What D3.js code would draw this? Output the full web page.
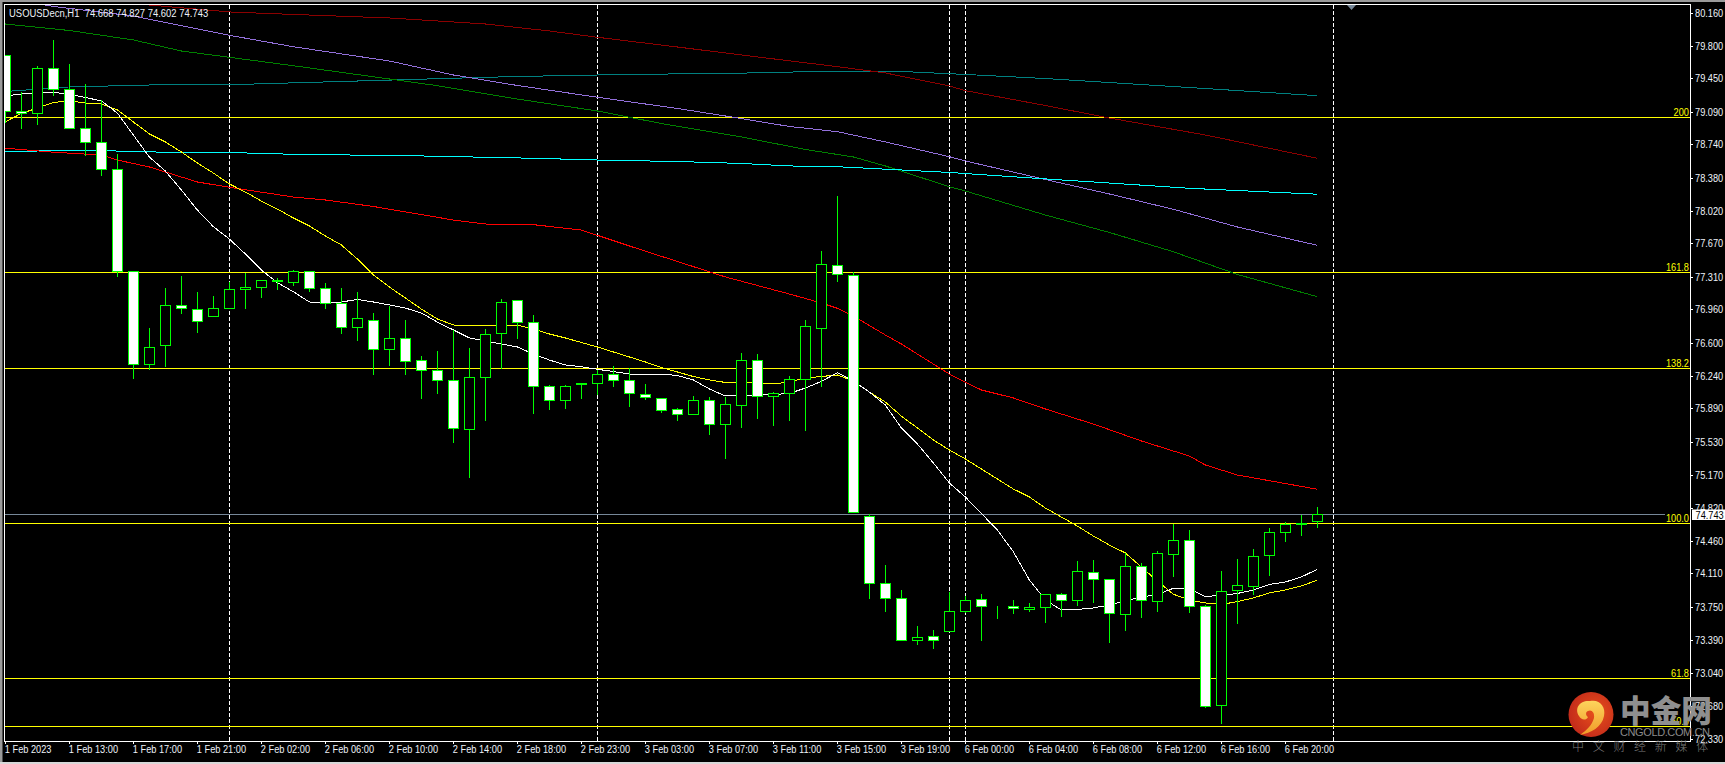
<!DOCTYPE html>
<html><head><meta charset="utf-8">
<script src="https://cdnjs.cloudflare.com/ajax/libs/d3/7.8.5/d3.min.js"></script>
<style>
html,body{margin:0;padding:0;background:#000;overflow:hidden}
svg{display:block}
text{font-family:"Liberation Sans",Arial,sans-serif;font-size:11px;fill:#eef2f8}
</style></head><body><svg id="c" width="1725" height="764"></svg>
<script>
const symbolTitle="USOUSDecn,H1  74.668 74.827 74.602 74.743";
const lastPrice=74.743;
const opens=[79.699,79.090,79.073,79.558,79.332,78.911,78.760,78.469,77.365,76.366,
76.571,77.002,76.955,76.884,76.970,77.175,77.197,77.257,77.250,77.369,
77.181,77.024,76.765,76.841,76.528,76.646,76.409,76.301,76.194,75.665,
76.226,76.700,77.056,76.819,76.129,75.978,76.161,76.161,76.258,76.194,
76.043,75.999,75.881,75.827,75.978,75.719,75.924,76.409,76.021,76.053,
76.204,76.754,77.434,77.326,74.727,74.004,73.842,73.389,73.432,73.486,
73.702,73.832,73.756,73.756,73.724,73.745,73.885,73.821,74.123,74.047,
73.670,74.188,73.810,74.317,74.468,73.756,72.688,73.929,73.972,74.306,
74.554,74.640,74.668];
const closes=[79.095,79.069,79.558,79.332,78.911,78.760,78.469,77.365,76.366,76.549,
77.002,76.970,76.830,76.970,77.175,77.197,77.272,77.272,77.369,77.186,
77.020,76.765,76.862,76.528,76.646,76.398,76.301,76.194,75.676,76.226,
76.690,77.035,76.819,76.129,75.978,76.129,76.146,76.258,76.194,76.053,
76.010,75.870,75.827,75.978,75.719,75.935,76.409,76.021,76.053,76.204,
76.776,77.445,77.337,74.770,74.004,73.842,73.389,73.422,73.389,73.702,
73.821,73.756,73.749,73.735,73.745,73.885,73.821,74.134,74.047,73.681,
74.188,73.821,74.328,74.468,73.756,72.678,73.918,73.983,74.295,74.554,
74.640,74.647,74.743];
const highs=[79.699,79.303,79.583,79.864,79.612,79.397,79.217,78.634,77.365,76.765,
77.197,77.326,77.153,77.110,77.264,77.358,77.283,77.304,77.391,77.380,
77.250,77.197,77.153,76.927,77.002,76.851,76.456,76.520,76.736,76.549,
76.754,77.078,77.067,76.898,76.143,76.150,76.161,76.305,76.348,76.334,
76.154,75.999,75.895,76.032,76.021,76.021,76.496,76.485,76.075,76.247,
76.851,77.588,78.181,77.369,74.759,74.209,73.939,73.551,73.508,73.918,
73.867,73.896,73.767,73.832,73.799,73.896,73.907,74.252,74.263,74.047,
74.339,74.231,74.360,74.651,74.587,73.778,74.144,74.274,74.382,74.601,
74.673,74.748,74.827];
const lows=[78.979,78.907,78.947,79.263,78.911,78.623,78.400,77.311,76.208,76.315,
76.340,76.909,76.707,76.884,76.970,76.966,77.084,77.171,77.214,77.149,
76.966,76.700,76.621,76.251,76.348,76.261,75.999,76.046,75.521,75.143,
75.758,76.323,76.639,75.833,75.876,75.884,75.992,76.035,76.121,75.916,
75.981,75.841,75.755,75.827,75.614,75.345,75.679,75.779,75.701,75.755,
75.657,76.124,77.257,74.770,73.838,73.698,73.389,73.339,73.306,73.486,
73.684,73.382,73.619,73.681,73.695,73.576,73.641,73.763,73.792,73.360,
73.490,73.630,73.695,74.072,73.684,72.659,72.487,73.565,73.881,74.083,
74.460,74.514,74.602];

const whiteMA=[79.260,79.281,79.297,79.300,79.276,79.244,79.206,79.076,78.839,78.602,
78.451,78.246,78.030,77.850,77.717,77.556,77.383,77.246,77.149,77.038,
77.027,77.038,77.065,77.038,77.006,76.973,76.919,76.822,76.736,76.650,
76.617,76.585,76.553,76.477,76.412,76.359,76.340,76.312,76.288,76.261,
76.254,76.261,76.245,76.197,76.100,76.024,76.027,76.035,76.040,76.051,
76.110,76.181,76.275,76.186,76.067,75.927,75.679,75.507,75.302,75.086,
74.935,74.757,74.579,74.345,74.040,73.824,73.716,73.722,73.738,73.770,
73.813,73.856,73.883,73.950,73.943,73.862,73.873,73.894,73.932,73.991,
74.018,74.072,74.155];
const yellowMA=[78.982,79.071,79.130,79.190,79.206,79.184,79.173,79.109,78.979,78.850,
78.764,78.656,78.537,78.429,78.311,78.224,78.127,78.041,77.944,77.858,
77.750,77.653,77.502,77.329,77.200,77.081,76.962,76.855,76.790,76.779,
76.787,76.787,76.787,76.747,76.693,76.650,76.601,76.553,76.499,76.445,
76.391,76.332,76.283,76.234,76.197,76.170,76.168,76.164,76.154,76.175,
76.218,76.234,76.251,76.186,76.067,75.959,75.808,75.679,75.550,75.442,
75.345,75.237,75.129,75.021,74.935,74.816,74.719,74.622,74.514,74.417,
74.331,74.180,74.029,73.886,73.824,73.792,73.776,73.806,73.846,73.900,
73.932,73.975,74.037];
const redBars=[0,3,6,7,9,12,14,18,20,23,28,30,33,36,37,39,42,45,49,51,52,53,54,55,56,58,59,61,63,65,68,71,74,75,77,82];
const redMA=[78.696,78.653,78.623,78.569,78.494,78.332,78.275,78.170,78.138,78.068,77.922,77.879,77.872,77.814,77.757,77.642,77.475,77.308,77.124,77.027,76.970,76.887,76.785,76.682,76.585,76.369,76.261,76.089,76.003,75.884,75.722,75.539,75.377,75.280,75.172,75.018];
const darkRedBars=[7,9,14,18,24,30,34,37,42,46,52,55,59,60,65,69,75,82];
const darkRedMA=[80.263,80.241,80.166,80.139,80.101,80.036,79.961,79.893,79.788,79.702,79.576,79.508,79.368,79.317,79.157,79.022,78.839,78.588];
const purpleBars=[2,3,8,14,18,24,28,32,37,42,45,49,52,55,59,60,65,69,73,77,82];
const purpleMA=[80.257,80.225,80.122,79.914,79.791,79.637,79.486,79.373,79.246,79.125,79.044,78.931,78.875,78.764,78.605,78.559,78.359,78.203,78.038,77.847,77.649];
const greenBars=[0,4,8,11,14,18,24,27,32,37,41,46,50,53,55,59,60,65,69,73,77,82];
const greenMA=[80.036,79.966,79.864,79.745,79.677,79.586,79.443,79.371,79.227,79.098,78.963,78.818,78.683,78.602,78.505,78.281,78.235,77.976,77.788,77.580,77.335,77.095];
const tealBars=[0,4,9,15,21,27,32,38,48,51,56,60,65,70,74,82];
const tealMA=[79.308,79.357,79.378,79.386,79.416,79.446,79.470,79.489,79.511,79.529,79.524,79.492,79.448,79.394,79.351,79.263];
const cyanBars=[0,3,6,10,15,18,26,33,37,42,46,49,52,59,65,69,74,82];
const cyanMA=[78.659,78.670,78.670,78.653,78.645,78.631,78.613,78.588,78.569,78.553,78.532,78.505,78.497,78.435,78.365,78.321,78.264,78.200];

const fibLabels=["200","161.8","138.2","100.0","61.8","50.0"];
const fibPrices=[79.030,77.358,76.323,74.651,72.980,72.462];
const dashedBars=[14,37,59,60,83];
const priceTicks=[80.16,79.80,79.45,79.09,78.74,78.38,78.02,77.67,77.31,76.96,76.60,76.24,75.89,75.53,75.17,74.82,74.46,74.11,73.75,73.39,73.04,72.68,72.33];
const timeLabels=["1 Feb 2023","1 Feb 13:00","1 Feb 17:00","1 Feb 21:00","2 Feb 02:00","2 Feb 06:00","2 Feb 10:00","2 Feb 14:00","2 Feb 18:00","2 Feb 23:00","3 Feb 03:00","3 Feb 07:00","3 Feb 11:00","3 Feb 15:00","3 Feb 19:00","6 Feb 00:00","6 Feb 04:00","6 Feb 08:00","6 Feb 12:00","6 Feb 16:00","6 Feb 20:00"];

const L=4.5,T=4.5,R=1690.5,B=741.5;
const x=d3.scaleLinear().domain([0,82]).range([5.33,1317.33]);
const y=d3.scaleLinear().domain([80.16,72.33]).range([12.5,738.5]);
const px=v=>Math.floor(x(v))+.5, py=v=>Math.floor(y(v))+.5;
const svg=d3.select("#c");
// the terminal's font is taller than it is wide: narrow each text around its anchor
const squeeze=(sel,f)=>sel.each(function(){
  const tx=+this.getAttribute("x")||0,ty=+this.getAttribute("y")||0;
  this.setAttribute("x",0);this.setAttribute("y",0);
  this.setAttribute("transform",`translate(${tx} ${ty}) scale(${f} 1)`);
});

// window chrome
svg.append("rect").attr("width",1725).attr("height",2).attr("fill","#9a9a9a");
svg.append("rect").attr("width",2.5).attr("height",764).attr("fill","#9a9a9a");
svg.append("rect").attr("y",762).attr("width",1725).attr("height",2).attr("fill","#d8d8d8");

svg.append("defs").append("clipPath").attr("id","plot").append("rect").attr("x",5).attr("y",5).attr("width",1685).attr("height",736);
const defs=svg.select("defs");
const lg=defs.append("radialGradient").attr("id","disc").attr("cx","60%").attr("cy","45%").attr("r","65%");
lg.append("stop").attr("offset","0").attr("stop-color","#e8501c");
lg.append("stop").attr("offset","1").attr("stop-color","#c0281a");
const sw=defs.append("linearGradient").attr("id","swirl").attr("x1",0).attr("y1",0).attr("x2",0).attr("y2",1);
sw.append("stop").attr("offset","0").attr("stop-color","#fdd45c");
sw.append("stop").attr("offset","1").attr("stop-color","#f09a28");

const plot=svg.append("g").attr("clip-path","url(#plot)");
const flat=plot.append("g").attr("shape-rendering","crispEdges");

flat.selectAll("line.dash").data(dashedBars).join("line").attr("class","dash")
 .attr("x1",px).attr("x2",px).attr("y1",T).attr("y2",B)
 .attr("stroke","#fff").attr("stroke-dasharray","4,2");
flat.selectAll("line.fib").data(fibPrices).join("line").attr("class","fib")
 .attr("x1",L).attr("x2",R).attr("y1",py).attr("y2",py).attr("stroke","#ffff00");
flat.append("line").attr("x1",L).attr("x2",1665).attr("y1",py(lastPrice)).attr("y2",py(lastPrice)).attr("stroke","#778899");

const maLine=d3.line().x(d=>x(d[0])).y(d=>y(d[1]));
function drawMA(bars,vals,color){
  flat.append("path").datum(bars.map((b,i)=>[b,vals[i]]))
   .attr("d",maLine).attr("fill","none").attr("stroke",color).attr("stroke-width",1);
}
const allBars=d3.range(opens.length);
drawMA(tealBars,tealMA,"#008080");
drawMA(darkRedBars,darkRedMA,"#8b0000");
drawMA(purpleBars,purpleMA,"#9370db");
drawMA(greenBars,greenMA,"#008000");
drawMA(cyanBars,cyanMA,"#00ffff");
drawMA(redBars,redMA,"#ff0000");
drawMA(allBars,yellowMA,"#ffff00");
drawMA(allBars,whiteMA,"#ffffff");

// candles
const cg=flat.append("g");
allBars.forEach(i=>{
  const c=px(i);
  cg.append("line").attr("x1",c).attr("x2",c).attr("y1",py(highs[i])).attr("y2",py(lows[i])).attr("stroke","#00ff00");
  const top=py(Math.max(opens[i],closes[i])),bot=py(Math.min(opens[i],closes[i]));
  cg.append("rect").attr("x",c-5).attr("width",10).attr("y",top).attr("height",bot-top)
    .attr("fill",closes[i]>=opens[i]?"#000":"#fff").attr("stroke","#00ff00");
});

// fib labels
svg.selectAll("text.fibl").data(fibLabels).join("text").attr("class","fibl")
 .attr("x",1689).attr("y",(d,i)=>py(fibPrices[i])-2).attr("text-anchor","end").style("fill","#ffff00").text(d=>d)
 .call(squeeze,.84);

// frame
svg.append("rect").attr("x",L).attr("y",T).attr("width",R-L).attr("height",B-T).attr("fill","none").attr("stroke","#fff").attr("shape-rendering","crispEdges");

// axes
const yAxis=d3.axisRight(y).tickValues(priceTicks).tickSize(3).tickPadding(2).tickFormat(d3.format(".3f"));
const yg=svg.append("g").attr("transform",`translate(${R-.5},0)`).call(yAxis);
const xAxis=d3.axisBottom(x).tickValues(timeLabels.map((d,i)=>i*4)).tickSize(3).tickPadding(2).tickFormat((d,i)=>timeLabels[i]);
const xg=svg.append("g").attr("transform",`translate(0,${B-.5})`).call(xAxis);
[yg,xg].forEach(g=>{g.attr("font-family",null).attr("font-size",null);g.select(".domain").remove();
  g.selectAll(".tick line").attr("stroke","#fff").attr("shape-rendering","crispEdges");g.selectAll("text").attr("fill",null)});
xg.selectAll("text").attr("text-anchor","start").attr("x",-1).attr("y",4).call(squeeze,.84);
yg.selectAll("text").call(squeeze,.84);

// price box
svg.append("rect").attr("x",1692).attr("y",py(lastPrice)-5).attr("width",33).attr("height",10.5).attr("fill","#fff");
svg.append("text").attr("x",1695.5).attr("y",py(lastPrice)+4).style("fill","#000").text(lastPrice.toFixed(3)).call(squeeze,.84);

// header
svg.append("text").attr("x",9).attr("y",16.5).attr("xml:space","preserve").style("white-space","pre").text(symbolTitle).call(squeeze,.86);

// shift marker
svg.append("path").attr("d","M1347,5 L1356,5 L1351.5,10 Z").attr("fill","#778899");

// watermark
const wm=svg.append("g");
wm.append("circle").attr("cx",1591).attr("cy",714.5).attr("r",22.5).attr("fill","url(#disc)");
wm.append("path").attr("d","M1579,716 C1574,708 1580,700 1590,701 C1600,699 1606,707 1604,716 C1602,727 1591,733 1580,735 C1587,730 1592,725 1594,718 C1595,712 1591,709 1588,711 C1585,712 1586,716 1588,717 C1586,721 1581,720 1579,716 Z").attr("fill","url(#swirl)");
wm.append("text").attr("x",1620).attr("y",722).attr("textLength",92).attr("lengthAdjust","spacingAndGlyphs")
  .style("font-family",'"Noto Sans CJK SC"').style("font-size","31px").style("font-weight","900").style("fill","#8f8f8f").text("中金网");
wm.append("text").attr("x",1620).attr("y",736).attr("textLength",90).attr("lengthAdjust","spacing")
  .style("font-size","11px").style("fill","#8a8a8a").text("CNGOLD.COM.CN");
wm.append("text").attr("x",1572).attr("y",751).style("font-family",'"Noto Sans CJK SC"').style("font-size","12px").style("font-weight","300")
  .style("letter-spacing","8.7px").style("fill","#7d7d7d").text("中文财经新媒体");
</script></body></html>
